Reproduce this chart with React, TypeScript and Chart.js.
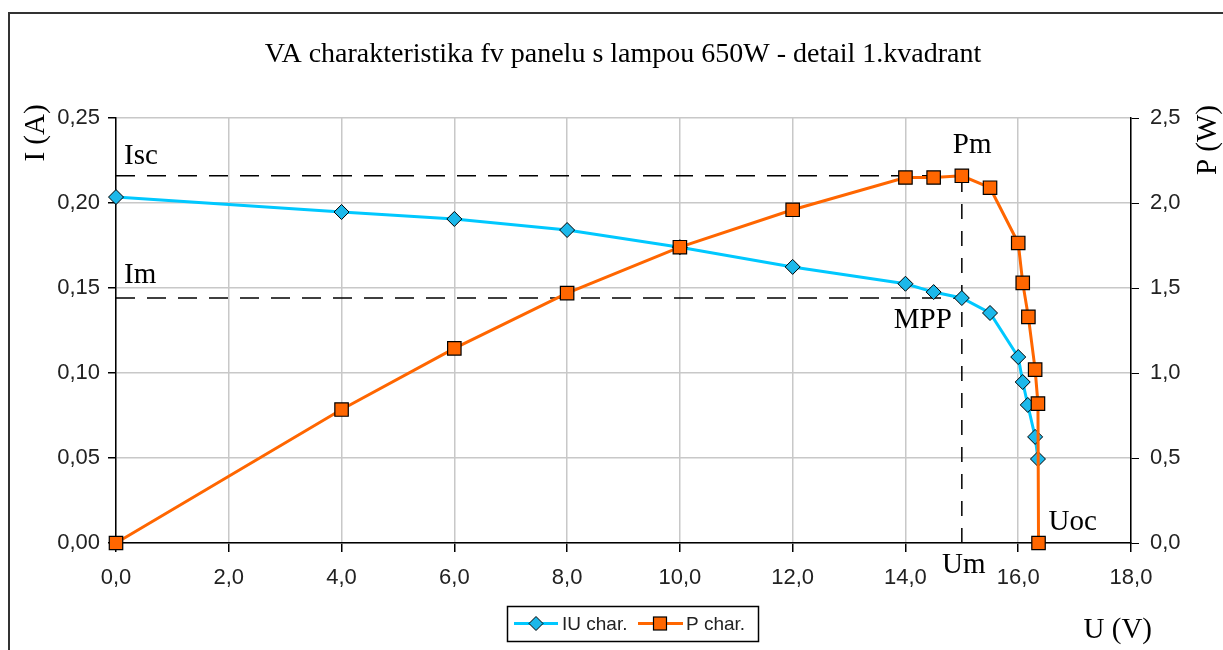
import React, { useEffect, useRef } from 'react';
import { Chart, registerables } from 'chart.js';

Chart.register(...registerables);

// ---------- data ----------
const chartTitle = 'VA charakteristika fv panelu s lampou 650W - detail 1.kvadrant';
const iuVoltage = [0, 4, 6, 8, 10, 12, 14, 14.5, 15, 15.5, 16.0, 16.08, 16.17, 16.3, 16.35];
const iuCurrent = [0.2035, 0.1947, 0.1906, 0.1841, 0.174, 0.1624, 0.1525, 0.1476, 0.1441, 0.1353, 0.1094, 0.0947, 0.0812, 0.0624, 0.0494];
const pVoltage = [0, 4, 6, 8, 10, 12, 14, 14.5, 15, 15.5, 16.0, 16.08, 16.18, 16.3, 16.35, 16.36];
const pPower = [0, 0.785, 1.145, 1.47, 1.74, 1.96, 2.15, 2.15, 2.16, 2.09, 1.765, 1.53, 1.33, 1.02, 0.82, 0];
const seriesNames = ['IU char.', 'P char.'];
const mppVoltage = 15; // Um
const mppCurrent = 0.1441; // Im
const mppPower = 2.16; // Pm
const openCircuitVoltage = 16.36; // Uoc
const uTickLabels = ['0,0', '2,0', '4,0', '6,0', '8,0', '10,0', '12,0', '14,0', '16,0', '18,0'];
const iTickLabels = ['0,00', '0,05', '0,10', '0,15', '0,20', '0,25'];
const pTickLabels = ['0,0', '0,5', '1,0', '1,5', '2,0', '2,5'];

const CYAN = '#00c8ff';
const CYAN_FILL = '#1cb8ea';
const ORANGE = '#ff6600';
const SERIF = '"Liberation Serif", "Times New Roman", serif';
const SANS = '"Liberation Sans", Arial, sans-serif';

const overlayPlugin = {
  id: 'overlay',
  beforeDatasetsDraw(chart: any) {
    const { ctx, chartArea: a, scales } = chart;
    const xm = scales.x.getPixelForValue(mppVoltage);
    const yPm = scales.y1.getPixelForValue(mppPower);
    const yIm = scales.y.getPixelForValue(mppCurrent);
    ctx.save();
    ctx.strokeStyle = '#000';
    ctx.lineWidth = 1.5;
    ctx.setLineDash([19, 12]);
    ctx.beginPath();
    ctx.moveTo(a.left, yPm);
    ctx.lineTo(xm, yPm);
    ctx.moveTo(a.left, yIm);
    ctx.lineTo(xm, yIm);
    ctx.stroke();
    ctx.setLineDash([15, 12]);
    ctx.beginPath();
    ctx.moveTo(xm, a.bottom);
    ctx.lineTo(xm, yPm);
    ctx.stroke();
    ctx.restore();
  },
  afterDraw(chart: any) {
    const { ctx, chartArea: a, scales } = chart;
    const xm = scales.x.getPixelForValue(mppVoltage);
    const xoc = scales.x.getPixelForValue(openCircuitVoltage);
    const yPm = scales.y1.getPixelForValue(mppPower);
    const yIm = scales.y.getPixelForValue(mppCurrent);
    ctx.save();
    ctx.fillStyle = '#000';
    ctx.textBaseline = 'alphabetic';

    // title
    ctx.font = `28px ${SERIF}`;
    ctx.textAlign = 'center';
    ctx.fillText(chartTitle, 623, 62);

    // annotations
    ctx.font = `29px ${SERIF}`;
    ctx.textAlign = 'left';
    ctx.fillText('Isc', a.left + 8, yPm - 12);
    ctx.fillText('Im', a.left + 8, yIm - 15);
    ctx.fillText('Pm', xm - 9, yPm - 23);
    ctx.fillText('Uoc', xoc + 10, a.bottom - 13);
    ctx.textAlign = 'right';
    ctx.fillText('MPP', xm - 10, yIm + 30);
    ctx.textAlign = 'center';
    ctx.fillText('Um', xm + 2, a.bottom + 30);
    ctx.textAlign = 'right';
    ctx.fillText('U (V)', a.right + 21, 638);

    // rotated axis titles
    const rot = (text: string, x: number, y: number) => {
      ctx.save();
      ctx.translate(x, y);
      ctx.rotate(-Math.PI / 2);
      ctx.textAlign = 'center';
      ctx.fillText(text, 0, 0);
      ctx.restore();
    };
    rot('I (A)', 44, 133);
    rot('P (W)', 1216, 140);

    // legend
    const bx = 507, by = 606, bw = 251, bh = 35;
    const cy = by + bh / 2;
    ctx.lineWidth = 1.5;
    ctx.strokeStyle = '#000';
    ctx.strokeRect(bx + 0.5, by + 0.5, bw, bh);
    ctx.font = `19px ${SANS}`;
    ctx.textAlign = 'left';
    ctx.textBaseline = 'middle';
    ctx.fillStyle = '#222';
    // item 1
    ctx.lineWidth = 3;
    ctx.strokeStyle = CYAN;
    ctx.beginPath();
    ctx.moveTo(514, cy);
    ctx.lineTo(558, cy);
    ctx.stroke();
    ctx.beginPath();
    ctx.moveTo(536, cy - 7);
    ctx.lineTo(543, cy);
    ctx.lineTo(536, cy + 7);
    ctx.lineTo(529, cy);
    ctx.closePath();
    ctx.fillStyle = CYAN_FILL;
    ctx.fill();
    ctx.lineWidth = 1;
    ctx.strokeStyle = '#000';
    ctx.stroke();
    ctx.fillStyle = '#222';
    ctx.fillText(seriesNames[0], 562, cy + 1);
    // item 2
    ctx.lineWidth = 3;
    ctx.strokeStyle = ORANGE;
    ctx.beginPath();
    ctx.moveTo(638, cy);
    ctx.lineTo(683, cy);
    ctx.stroke();
    ctx.fillStyle = ORANGE;
    ctx.fillRect(653.5, cy - 6.5, 13, 13);
    ctx.lineWidth = 1.2;
    ctx.strokeStyle = '#000';
    ctx.strokeRect(653.5, cy - 6.5, 13, 13);
    ctx.fillStyle = '#222';
    ctx.fillText(seriesNames[1], 686, cy + 1);
    ctx.restore();
  },
};

export default function App() {
  const ref = useRef<HTMLCanvasElement | null>(null);

  useEffect(() => {
    document.body.style.margin = '0';
    const canvas = ref.current;
    if (!canvas) return;
    const chart = new Chart(canvas, {
      type: 'line',
      data: {
        datasets: [
          {
            label: seriesNames[0],
            data: iuVoltage.map((u, i) => ({ x: u, y: iuCurrent[i] })),
            yAxisID: 'y',
            borderColor: CYAN,
            borderWidth: 3,
            backgroundColor: CYAN_FILL,
            pointStyle: 'rectRot',
            pointRadius: 7.5,
            pointBorderColor: '#000',
            pointBorderWidth: 1,
            pointBackgroundColor: CYAN_FILL,
            tension: 0,
            clip: false,
            order: 1,
          } as any,
          {
            label: seriesNames[1],
            data: pVoltage.map((u, i) => ({ x: u, y: pPower[i] })),
            yAxisID: 'y1',
            borderColor: ORANGE,
            borderWidth: 3,
            backgroundColor: ORANGE,
            pointStyle: 'rect',
            pointRadius: 9.5,
            pointBorderColor: '#000',
            pointBorderWidth: 1.2,
            pointBackgroundColor: ORANGE,
            tension: 0,
            clip: false,
            order: 0,
          } as any,
        ],
      },
      options: {
        responsive: false,
        animation: false,
        layout: { padding: { top: 118, left: 0, right: 0, bottom: 0 } },
        plugins: {
          legend: { display: false },
          title: { display: false },
          tooltip: { enabled: false },
        },
        scales: {
          x: {
            type: 'linear',
            min: 0,
            max: 18,
            afterFit: (s: any) => { s.height = 107; },
            ticks: {
              stepSize: 2,
              color: '#222',
              font: { family: SANS, size: 22 },
              padding: 13,
              callback: (v: any) => uTickLabels[Math.round(Number(v) / 2)] ?? '',
            },
            grid: { color: '#c8c8c8', lineWidth: 1.5, tickColor: '#000', tickLength: 9 },
            border: { color: '#000', width: 1.5 },
          },
          y: {
            type: 'linear',
            position: 'left',
            min: 0,
            max: 0.25,
            afterFit: (s: any) => { s.width = 116; },
            ticks: {
              stepSize: 0.05,
              color: '#222',
              font: { family: SANS, size: 22 },
              padding: 8,
              callback: (v: any) => iTickLabels[Math.round(Number(v) / 0.05)] ?? '',
            },
            grid: { color: '#c8c8c8', lineWidth: 1.5, tickColor: '#000', tickLength: 8 },
            border: { color: '#000', width: 1.5 },
          },
          y1: {
            type: 'linear',
            position: 'right',
            min: 0,
            max: 2.5,
            afterFit: (s: any) => { s.width = 92; },
            ticks: {
              stepSize: 0.5,
              color: '#222',
              font: { family: SANS, size: 22 },
              padding: 11,
              callback: (v: any) => pTickLabels[Math.round(Number(v) / 0.5)] ?? '',
            },
            grid: { drawOnChartArea: false, tickColor: '#000', tickLength: 8 },
            border: { color: '#000', width: 1.5 },
          },
        },
      } as any,
      plugins: [overlayPlugin],
    });
    return () => chart.destroy();
  }, []);

  return (
    <div style={{ position: 'fixed', left: 0, top: 0, width: 1223, height: 650, background: '#fff', overflow: 'hidden' }}>
      <canvas ref={ref} width={1223} height={650} style={{ display: 'block' }} />
      <div
        style={{
          position: 'absolute',
          left: 8,
          top: 12,
          width: 1240,
          height: 660,
          border: '2px solid #333',
          pointerEvents: 'none',
        }}
      />
    </div>
  );
}
